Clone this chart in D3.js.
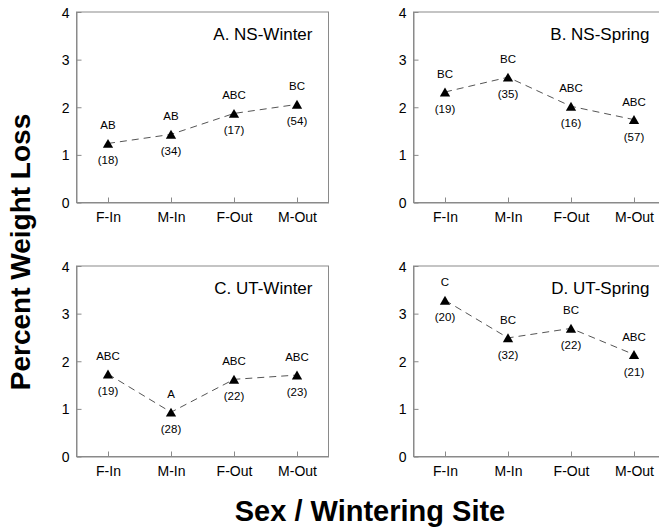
<!DOCTYPE html>
<html>
<head>
<meta charset="utf-8">
<script src="https://cdn.jsdelivr.net/npm/d3@7"></script>
<style>
  body { margin: 0; background: #fff; }
  svg { display: block; font-family: Arial, "Liberation Sans", Helvetica, sans-serif; }
</style>
</head>
<body>
<div id="chart"></div>
<script>
// categories and tick values
const categories = ['F-In', 'M-In', 'F-Out', 'M-Out'];
const yTicks = [0, 1, 2, 3, 4];
const panelTitles = ['A. NS-Winter', 'B. NS-Spring', 'C. UT-Winter', 'D. UT-Spring'];

// percent weight loss per panel
const lossNSWinter = [1.24, 1.43, 1.87, 2.06];
const lossNSSpring = [2.32, 2.63, 2.02, 1.74];
const lossUTWinter = [1.73, 0.93, 1.62, 1.71];
const lossUTSpring = [3.28, 2.49, 2.69, 2.14];

// significance groups
const groupsNSWinter = ['AB', 'AB', 'ABC', 'BC'];
const groupsNSSpring = ['BC', 'BC', 'ABC', 'ABC'];
const groupsUTWinter = ['ABC', 'A', 'ABC', 'ABC'];
const groupsUTSpring = ['C', 'BC', 'BC', 'ABC'];

// sample sizes
const nNSWinter = [18, 34, 17, 54];
const nNSSpring = [19, 35, 16, 57];
const nUTWinter = [19, 28, 22, 23];
const nUTSpring = [20, 32, 22, 21];

const panels = [
  { title: panelTitles[0], loss: lossNSWinter, groups: groupsNSWinter, n: nNSWinter },
  { title: panelTitles[1], loss: lossNSSpring, groups: groupsNSSpring, n: nNSSpring },
  { title: panelTitles[2], loss: lossUTWinter, groups: groupsUTWinter, n: nUTWinter },
  { title: panelTitles[3], loss: lossUTSpring, groups: groupsUTSpring, n: nUTSpring }
];

const W = 659, H = 530;
const svg = d3.select('#chart').append('svg').attr('width', W).attr('height', H);

const colLeft = [76.5, 413.5], rowTop = [12, 266];
const pw = 252, ph = 190.5;
const frameColor = '#8a8a8a';

panels.forEach((p, i) => {
  const left = colLeft[i % 2], top = rowTop[Math.floor(i / 2)];
  const g = svg.append('g').attr('transform', `translate(${left},${top})`);

  const x = d3.scalePoint().domain(categories).range([0, pw]).padding(0.5);
  const y = d3.scaleLinear().domain([0, 4]).range([ph, 0]);

  // frame
  g.append('rect')
    .attr('width', pw).attr('height', ph)
    .attr('fill', 'none').attr('stroke', frameColor).attr('stroke-width', 1);

  // axes with inward ticks
  const yAxis = g.append('g')
    .call(d3.axisLeft(y).tickValues(yTicks).tickFormat(d3.format('d')).tickSizeInner(-5).tickSizeOuter(0).tickPadding(7));
  const xAxis = g.append('g').attr('transform', `translate(0,${ph})`)
    .call(d3.axisBottom(x).tickSizeInner(-5).tickSizeOuter(0).tickPadding(10));
  [yAxis, xAxis].forEach(a => {
    a.select('.domain').attr('stroke', frameColor);
    a.selectAll('.tick line').attr('stroke', frameColor);
    a.selectAll('.tick text').attr('fill', '#000').style('font-size', '14px');
  });
  yAxis.selectAll('.tick text').attr('dy', '0.36em');

  // title
  g.append('text')
    .attr('x', pw - 16).attr('y', 28)
    .attr('text-anchor', 'end')
    .style('font-size', '17px')
    .text(p.title);

  const pts = categories.map((c, k) => ({ c, v: p.loss[k], grp: p.groups[k], n: p.n[k] }));

  // dashed connecting line
  g.append('path')
    .datum(pts)
    .attr('fill', 'none')
    .attr('stroke', '#555')
    .attr('stroke-width', 1)
    .attr('stroke-dasharray', '7,5')
    .attr('d', d3.line().x(d => x(d.c)).y(d => y(d.v)));

  // triangle markers
  g.selectAll('path.mark')
    .data(pts)
    .join('path')
    .attr('class', 'mark')
    .attr('d', d3.symbol(d3.symbolTriangle, 46)())
    .attr('transform', d => `translate(${x(d.c)},${y(d.v) + 1.4})`)
    .attr('fill', '#000');

  // group letters above
  g.selectAll('text.grp')
    .data(pts)
    .join('text')
    .attr('class', 'grp')
    .attr('x', d => x(d.c)).attr('y', d => y(d.v) - 14)
    .attr('text-anchor', 'middle')
    .style('font-size', '11.5px')
    .text(d => d.grp);

  // sample sizes below
  g.selectAll('text.n')
    .data(pts)
    .join('text')
    .attr('class', 'n')
    .attr('x', d => x(d.c)).attr('y', d => y(d.v) + 21)
    .attr('text-anchor', 'middle')
    .style('font-size', '11.5px')
    .text(d => `(${d.n})`);
});

// axis titles
svg.append('text')
  .attr('transform', 'translate(29.5,252) rotate(-90)')
  .attr('text-anchor', 'middle')
  .style('font-size', '28px')
  .style('font-weight', 'bold')
  .text('Percent Weight Loss');

svg.append('text')
  .attr('x', 370).attr('y', 521)
  .attr('text-anchor', 'middle')
  .style('font-size', '29px')
  .style('font-weight', 'bold')
  .text('Sex / Wintering Site');
</script>
</body>
</html>
